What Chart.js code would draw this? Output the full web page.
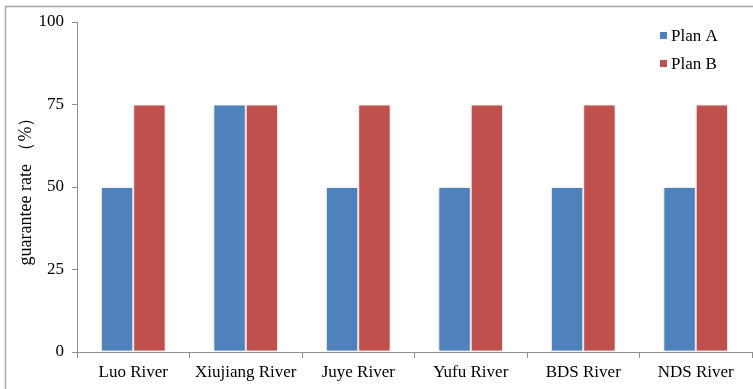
<!DOCTYPE html>
<html>
<head>
<meta charset="utf-8">
<script src="https://cdn.jsdelivr.net/npm/chart.js@4/dist/chart.umd.min.js"></script>
<style>
  html, body { margin: 0; padding: 0; background: #fff; }
  #wrap { position: relative; width: 753px; height: 389px; }
</style>
</head>
<body>
<div id="wrap"><canvas id="c" width="753" height="389"></canvas></div>
<script>
// Rivers compared under two water-allocation plans
const rivers = ['Luo River', 'Xiujiang River', 'Juye River', 'Yufu River', 'BDS River', 'NDS River'];
const planA = [50, 75, 50, 50, 50, 50];
const planB = [75, 75, 75, 75, 75, 75];
const yTicks = [0, 25, 50, 75, 100];
const seriesNames = ['Plan A', 'Plan B'];
const seriesColors = ['#4F81BD', '#C0504D'];

const SERIF = '"Liberation Serif", "Times New Roman", "Noto Serif", serif';
const AXIS_GRAY = '#8f8f8f';

// Thin frame around the figure (left and top edges fall inside the window)
const framePlugin = {
  id: 'frame',
  afterDraw(chart) {
    const ctx = chart.ctx;
    ctx.save();
    ctx.strokeStyle = '#a6a6a6';
    ctx.lineWidth = 1.5;
    ctx.beginPath();
    ctx.moveTo(5.5, chart.height + 2);
    ctx.lineTo(5.5, 6.5);
    ctx.lineTo(chart.width + 2, 6.5);
    ctx.stroke();
    ctx.restore();
  }
};

// Soft shadow behind the bars
const barShadow = {
  id: 'barShadow',
  beforeDatasetsDraw(chart) {
    const ctx = chart.ctx;
    ctx.save();
    ctx.shadowColor = 'rgba(0,0,0,0.22)';
    ctx.shadowBlur = 3;
    ctx.shadowOffsetX = 0;
    ctx.shadowOffsetY = 0;
  },
  afterDatasetsDraw(chart) {
    chart.ctx.restore();
  }
};

// Vertical legend in the upper right corner of the plot
const cornerLegend = {
  id: 'cornerLegend',
  afterDraw(chart) {
    const ctx = chart.ctx;
    ctx.save();
    ctx.font = '17px ' + SERIF;
    ctx.textBaseline = 'middle';
    ctx.textAlign = 'left';
    chart.data.datasets.forEach((ds, i) => {
      const cy = 35.5 + i * 28;
      ctx.fillStyle = ds.backgroundColor;
      ctx.fillRect(660, cy - 3.5, 7, 7);
      ctx.fillStyle = '#000';
      ctx.fillText(ds.label, 671, cy + 1);
    });
    ctx.restore();
  }
};

new Chart(document.getElementById('c'), {
  type: 'bar',
  data: {
    labels: rivers,
    datasets: [
      { label: seriesNames[0], data: planA, backgroundColor: seriesColors[0] },
      { label: seriesNames[1], data: planB, backgroundColor: seriesColors[1] }
    ]
  },
  options: {
    responsive: false,
    animation: false,
    devicePixelRatio: 1,
    layout: { padding: { left: 0, top: 22, right: 1, bottom: 0 } },
    datasets: {
      bar: {
        categoryPercentage: 0.575,
        barPercentage: 1.0,
        borderColor: '#ffffff',
        borderWidth: 1,
        borderSkipped: false
      }
    },
    plugins: {
      legend: { display: false },
      tooltip: { enabled: false }
    },
    scales: {
      x: {
        grid: {
          display: true,
          drawOnChartArea: false,
          drawTicks: true,
          tickLength: 6,
          color: AXIS_GRAY,
          offset: true
        },
        border: { display: true, color: AXIS_GRAY, width: 1 },
        ticks: {
          color: '#000',
          font: { family: SERIF, size: 17 },
          padding: 4,
          maxRotation: 0,
          autoSkip: false
        },
        afterFit(scale) { scale.height = 37; }
      },
      y: {
        min: 0,
        max: 100,
        afterBuildTicks(scale) { scale.ticks = yTicks.map(v => ({ value: v })); },
        grid: {
          display: true,
          drawOnChartArea: false,
          drawTicks: true,
          tickLength: 5,
          color: AXIS_GRAY
        },
        border: { display: true, color: AXIS_GRAY, width: 1 },
        ticks: {
          color: '#000',
          font: { family: SERIF, size: 17 },
          padding: 8
        },
        title: {
          display: true,
          text: 'guarantee rate （%）',
          color: '#000',
          font: { family: SERIF, size: 18 },
          padding: { top: 15, bottom: 0 }
        },
        afterFit(scale) { scale.width = 77; }
      }
    }
  },
  plugins: [barShadow, framePlugin, cornerLegend]
});
</script>
</body>
</html>
